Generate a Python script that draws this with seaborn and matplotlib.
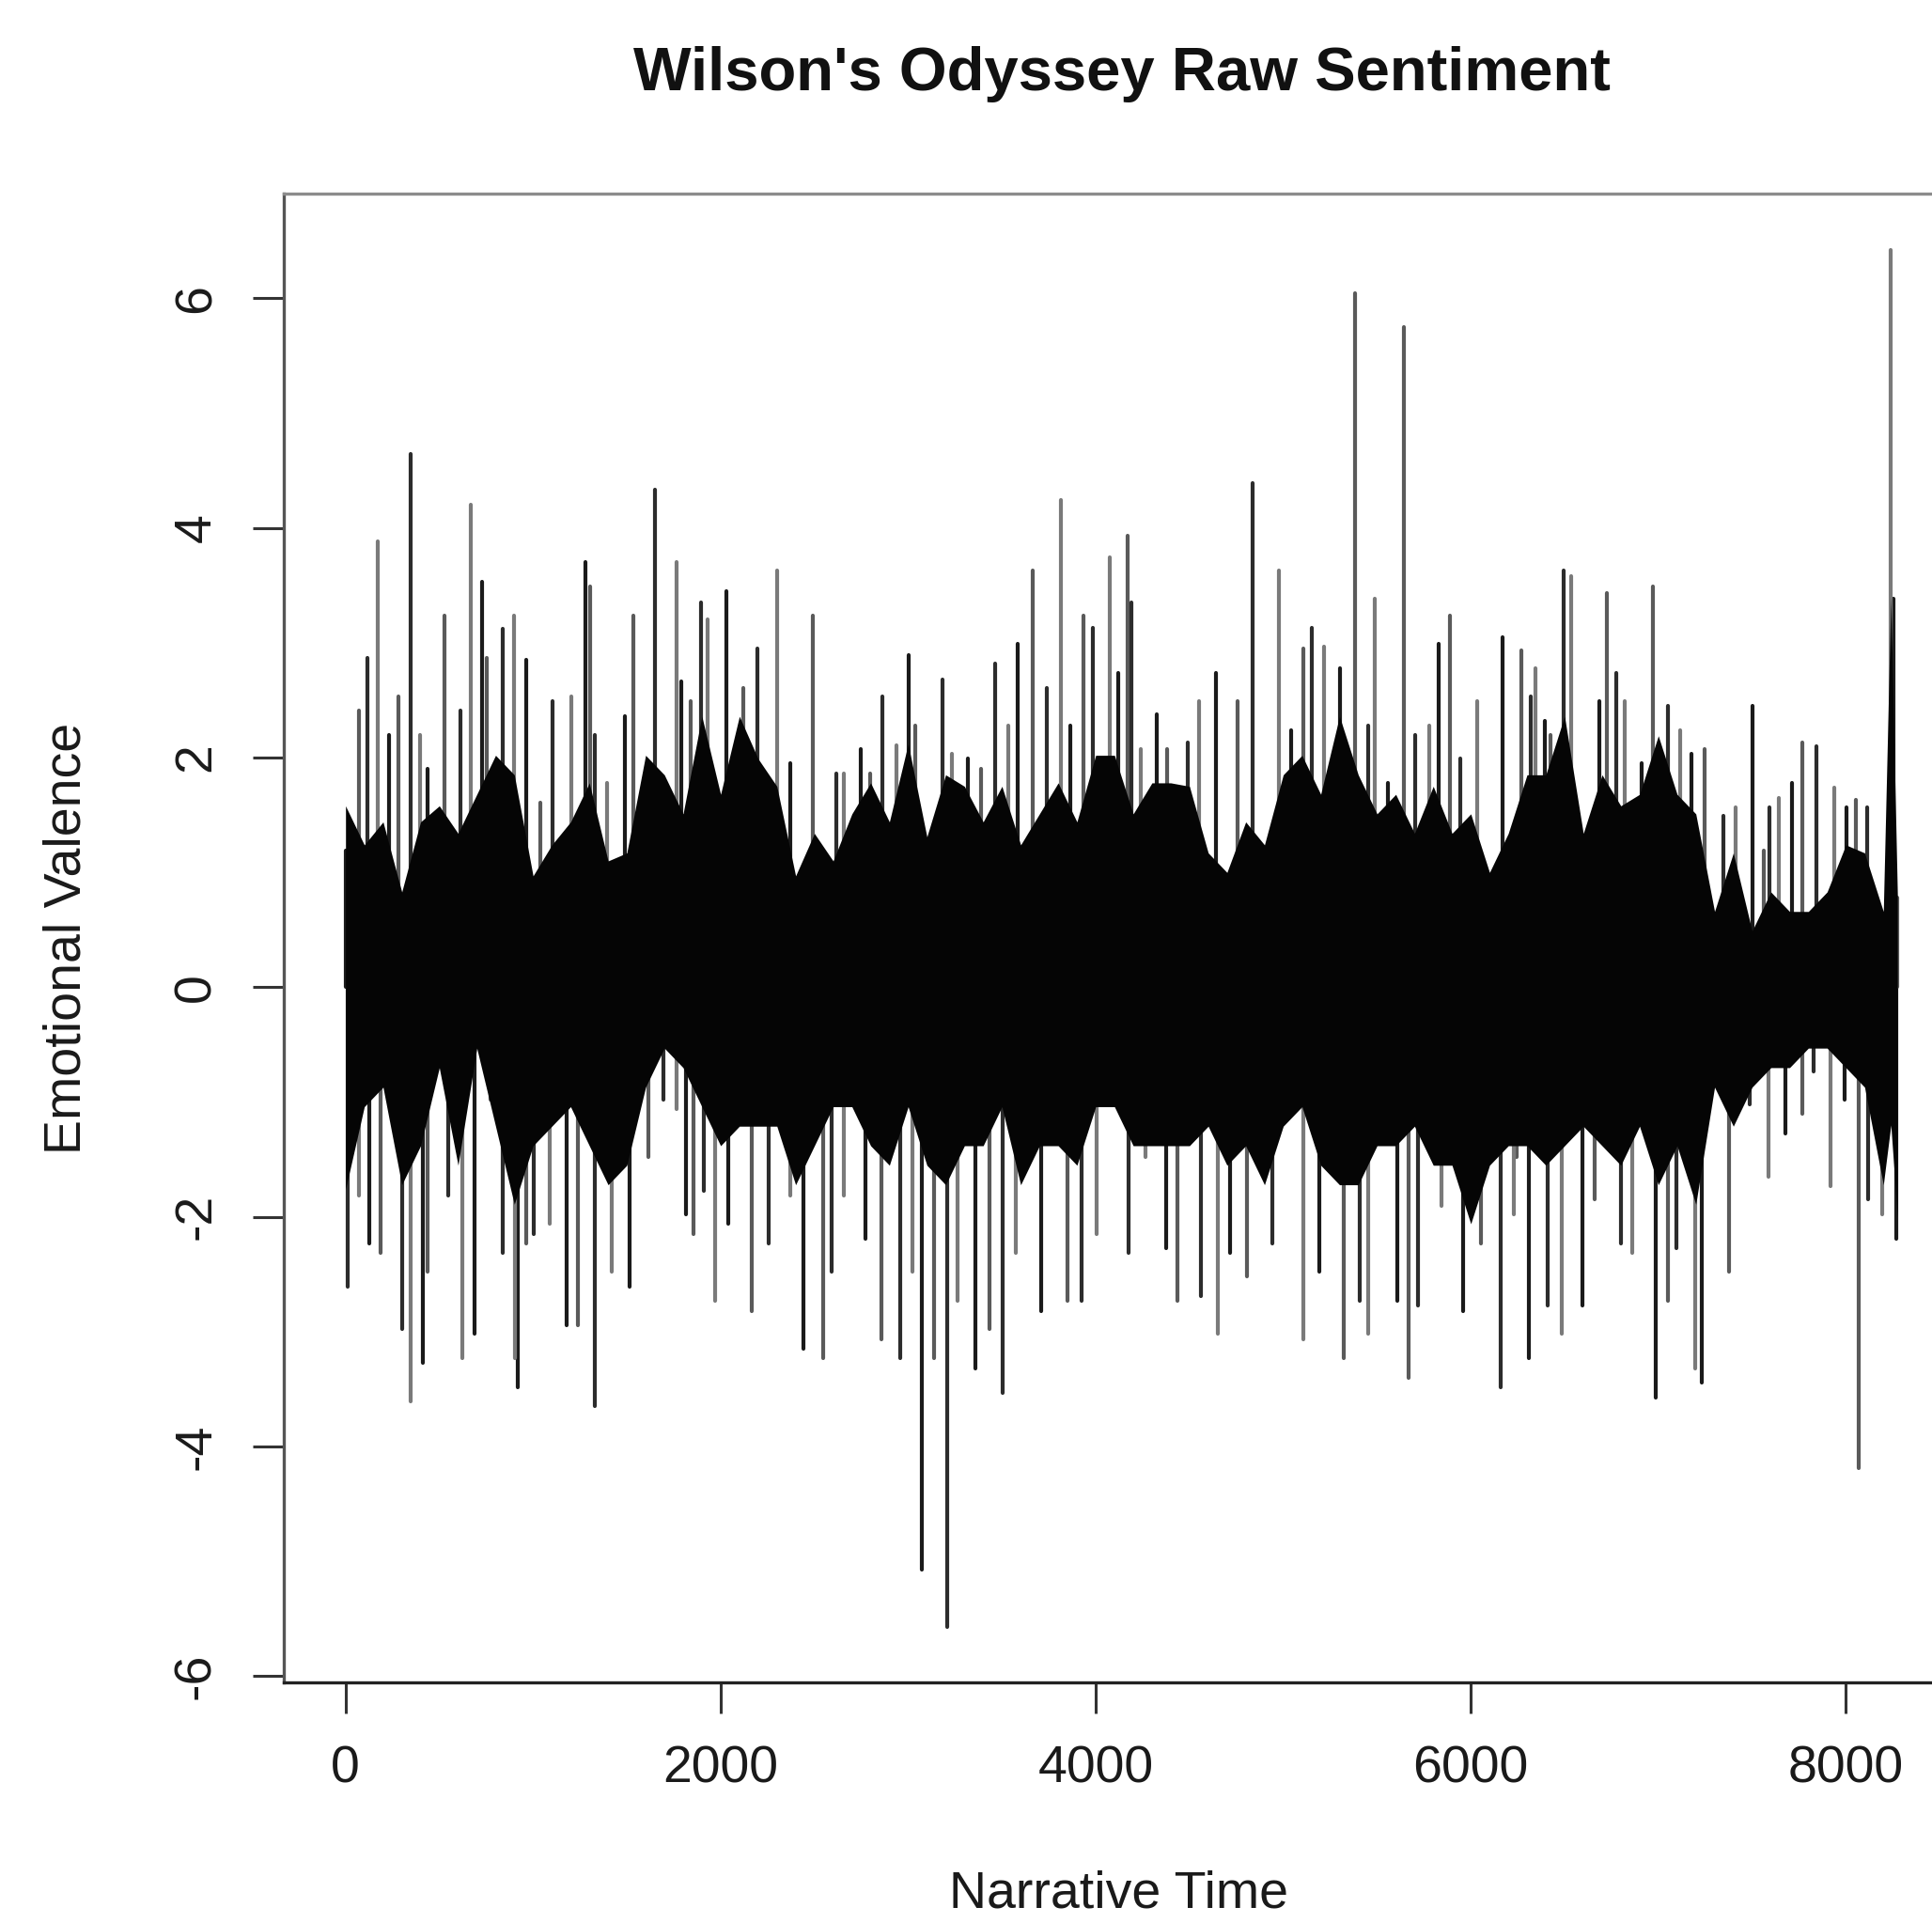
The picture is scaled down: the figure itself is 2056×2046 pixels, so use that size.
import numpy as np
import pandas as pd
import matplotlib
matplotlib.use("Agg")
import matplotlib.pyplot as plt
import seaborn as sns

# upward spikes of the sentiment series (narrative time, valence)
peak_time = [4, 71, 118, 171, 230, 280, 346, 396, 438, 530, 613, 668, 730, 751, 838, 896, 963,
             1038, 1105, 1205, 1280, 1305, 1330, 1396, 1488, 1535, 1651, 1763, 1788, 1838, 1896,
             1931, 2031, 2123, 2198, 2303, 2373, 2490, 2615, 2657, 2748, 2798, 2865, 2940, 3001,
             3040, 3182, 3232, 3319, 3390, 3466, 3532, 3582, 3662, 3737, 3816, 3866, 3937, 3983, 4074,
             4121, 4170, 4188, 4242, 4328, 4383, 4492, 4551, 4639, 4759, 4839, 4976, 5043, 5106,
             5151, 5218, 5301, 5381, 5451, 5490, 5560, 5643, 5702, 5777, 5827, 5889, 5944, 6036,
             6170, 6270, 6319,
             6344, 6394, 6427, 6494, 6536, 6686, 6725, 6778, 6819, 6911, 6970, 7050, 7117, 7178,
             7248, 7345, 7412, 7504, 7562, 7595, 7645, 7712, 7770, 7842, 7937, 8004, 8054, 8112,
             8238, 8255, 8275]
peak_val = [1.19, 2.41, 2.87, 3.88, 2.20, 2.53, 4.64, 2.20, 1.90, 3.24, 2.41, 4.20, 3.53, 2.87,
            3.12, 3.24, 2.85, 1.61, 2.49, 2.53, 3.70, 3.49, 2.20, 1.78, 2.36, 3.24, 4.33, 3.70,
            2.66, 2.49, 3.35,
            3.20, 3.45, 2.61, 2.95, 3.63, 1.95, 3.24, 1.86, 1.86, 2.07, 1.86, 2.53, 2.11, 2.89,
            2.28, 2.68, 2.03, 1.99, 1.90, 2.82, 2.28, 2.99, 3.63, 2.61, 4.24, 2.28, 3.24, 3.13, 3.74,
            2.74, 3.93, 3.35, 2.07, 2.38, 2.07, 2.13, 2.49, 2.74, 2.49, 4.39, 3.63, 2.24, 2.95,
            3.13, 2.97, 2.78, 6.04, 2.28, 3.38, 1.78, 5.75, 2.20, 2.28, 2.99, 3.24, 1.99, 2.49,
            3.05, 2.93, 2.53,
            2.78, 2.32, 2.20, 3.63, 3.58, 2.49, 3.43, 2.74, 2.49, 1.95, 3.49, 2.45, 2.24, 2.03,
            2.07, 1.49, 1.57, 2.45, 1.19, 1.57, 1.65, 1.78, 2.13, 2.10, 1.74, 1.57, 1.63, 1.57,
            6.42, 3.38, 0.78]

# downward spikes
trough_time = [13, 71, 129, 188, 301, 346, 413, 438, 546, 622, 688, 772, 838, 905, 918, 963, 1005,
               1088, 1180, 1238, 1330, 1422, 1514, 1614, 1697, 1763, 1813, 1855, 1913,
               1973, 2040, 2165, 2257, 2373, 2440, 2548, 2590, 2657, 2774, 2857, 2957, 3023, 3073,
               3140, 3207, 3265, 3357, 3432, 3504, 3574, 3707, 3849, 3924, 4007, 4057,
               4092, 4175, 4267, 4375, 4434, 4559, 4651, 4717, 4809, 4943, 5109, 5193, 5323, 5410,
               5451, 5609, 5668, 5718, 5843, 5960, 6052, 6161, 6228, 6311,
               6244, 6411, 6486, 6594, 6661, 6803, 6861, 6986, 7053, 7095, 7195, 7233, 7378, 7487,
               7587, 7679, 7770, 7829, 7920, 7995, 8070, 8120, 8195, 8270]
trough_val = [-2.61, -1.81, -2.23, -2.31, -2.98, -3.61, -3.27, -2.48, -1.81, -3.23, -3.02, -0.98,
              -2.31, -3.23, -3.48, -2.23, -2.15, -2.06, -2.94, -2.94, -3.65, -2.48, -2.61, -1.48,
              -0.98, -1.06, -1.98, -2.15, -1.77,
              -2.73, -2.06, -2.82, -2.23, -1.81, -3.15, -3.23, -2.48, -1.81, -2.19, -3.07, -3.23,
              -2.48, -5.07, -3.23, -5.57, -2.73, -3.32, -2.98, -3.53, -2.31, -2.82, -2.73, -2.73,
              -2.15, -0.98,
              -0.89, -2.31, -1.48, -2.27, -2.73, -2.69, -3.02, -2.31, -2.52, -2.23, -3.07, -2.48,
              -3.23, -2.73, -3.02, -2.73, -3.40, -2.77, -1.90, -2.82, -2.23, -3.48, -1.98, -3.23,
              -1.48, -2.77, -3.02, -2.77, -1.85, -2.23, -2.31, -3.57, -2.73, -2.27, -3.32, -3.44,
              -2.48, -1.02, -1.65, -1.27, -1.10, -0.73, -1.73, -0.98, -4.19, -1.85, -1.98, -2.19]

# the dense dark body of the series, upper and lower edge every 100 time steps
band_time = list(range(0, 8201, 100)) + [8240, 8275]
band_hi = [1.58, 1.24, 1.44, 0.83, 1.44, 1.58, 1.34, 1.68, 2.02, 1.85, 0.97, 1.24, 1.44, 1.78,
           1.10, 1.17, 2.02, 1.85, 1.51, 2.36, 1.68,
           2.36, 1.99, 1.75, 0.97, 1.34, 1.10, 1.51, 1.78, 1.44, 2.12, 1.31, 1.85, 1.75, 1.44,
           1.75, 1.24, 1.51, 1.78, 1.44, 2.02, 2.02, 1.51,
           1.78, 1.78, 1.75, 1.17, 1.00, 1.44, 1.24, 1.85, 2.02, 1.68, 2.36, 1.85, 1.51, 1.68,
           1.34, 1.75, 1.34, 1.51, 1.00, 1.34, 1.85,
           1.85, 2.36, 1.34, 1.85, 1.58, 1.68, 2.19, 1.68, 1.51, 0.66, 1.17, 0.49, 0.83, 0.66,
           0.66, 0.83, 1.24, 1.17, 0.66,
           3.40, 0.80]
band_lo = [-1.76, -1.04, -0.87, -1.72, -1.38, -0.70, -1.55, -0.53, -1.21, -1.89, -1.38, -1.21,
           -1.04, -1.38, -1.72, -1.55, -0.87, -0.53, -0.70, -1.04, -1.38,
           -1.21, -1.21, -1.21, -1.72, -1.38, -1.04, -1.04, -1.38, -1.55, -1.04, -1.55, -1.72,
           -1.38, -1.38, -1.04, -1.72, -1.38, -1.38, -1.55, -1.04, -1.04, -1.38,
           -1.38, -1.38, -1.38, -1.21, -1.55, -1.38, -1.72, -1.21, -1.04, -1.55, -1.72, -1.72,
           -1.38, -1.38, -1.21, -1.55, -1.55, -2.06, -1.55, -1.38, -1.38,
           -1.55, -1.38, -1.21, -1.38, -1.55, -1.21, -1.72, -1.38, -1.89, -0.87, -1.21, -0.87,
           -0.70, -0.70, -0.53, -0.53, -0.70, -0.87, -1.72,
           -1.20, -2.00]

x_ticks = [0, 2000, 4000, 6000, 8000]
y_ticks = [-6, -4, -2, 0, 2, 4, 6]

sns.set_style("white")
plt.rcParams["font.family"] = ["Liberation Sans", "DejaVu Sans"]
plt.rcParams["axes.unicode_minus"] = False

# one small line per spike, from the axis up/down to its value
spike_t = peak_time + trough_time
spike_v = peak_val + trough_val
rows = []
for i, (t, v) in enumerate(zip(spike_t, spike_v)):
    rows.append({"time": t, "valence": 0.0, "spike": i, "shade": i % 4})
    rows.append({"time": t, "valence": v, "spike": i, "shade": i % 4})
spikes = pd.DataFrame(rows)

fig = plt.figure(figsize=(20.56, 20.46), dpi=100)
ax = fig.add_axes([0.1469, 0.1251, 0.8648, 0.7742])

sns.lineplot(data=spikes, x="time", y="valence", hue="shade", units="spike", estimator=None,
             palette=["#1a1a1a", "#5a5a5a", "#2c2c2c", "#7a7a7a"], linewidth=3.0,
             legend=False, ax=ax, zorder=1)
ax.fill_between(band_time, band_lo, band_hi, color="#050505", linewidth=0, zorder=2)

ax.set_xlim(-329, 8580)
ax.set_ylim(-6.054, 6.911)
ax.set_xticks(x_ticks)
ax.set_xticklabels([str(t) for t in x_ticks])
ax.set_yticks(y_ticks)
ax.set_yticklabels([str(t) for t in y_ticks], rotation=90, va="center")
ax.tick_params(axis="both", which="major", direction="out", length=24, width=2.2,
               color="#333333", labelsize=40, labelcolor="#1a1a1a", pad=24,
               bottom=True, left=True)
ax.set_xlabel("")
ax.set_ylabel("")

ax.spines["top"].set_color("#8c8c8c")
ax.spines["left"].set_color("#555555")
ax.spines["bottom"].set_color("#222222")
for s in ["top", "left", "bottom", "right"]:
    ax.spines[s].set_linewidth(2.4)

fig.text(1194 / 2056, 1 - 96 / 2046, "Wilson's Odyssey Raw Sentiment", ha="center",
         va="baseline", fontsize=47, fontweight="bold", color="#111111")
fig.text(1191 / 2056, 1 - 2030 / 2046, "Narrative Time", ha="center", va="baseline",
         fontsize=40, color="#1a1a1a")
fig.text(72 / 2056, 0.5 - (998 - 1023) / 2046, "Emotional Valence", ha="center", va="center",
         rotation=90, fontsize=40, color="#1a1a1a")

fig.savefig("out.png", dpi=100)
